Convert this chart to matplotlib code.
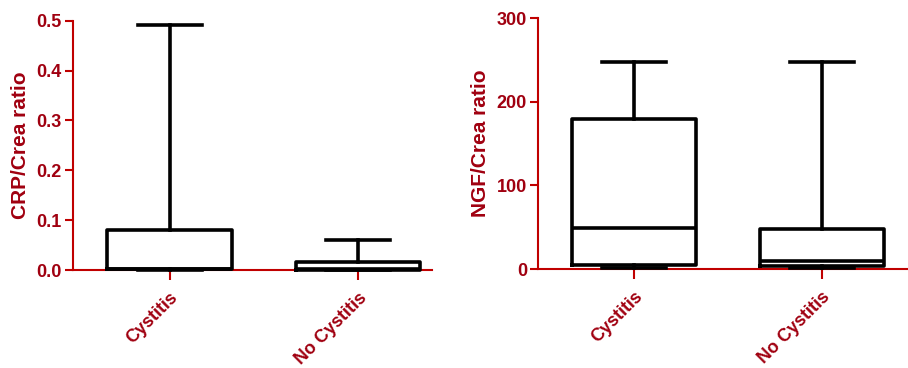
import matplotlib
matplotlib.use("Agg")
import matplotlib.pyplot as plt

plt.rcParams['font.family'] = ['Liberation Sans', 'DejaVu Sans']
plt.rcParams['font.weight'] = 'bold'

categories = ["Cystitis", "No Cystitis"]

# CRP/Crea ratio (left panel)
crp_whislo = [0.0, 0.0]
crp_q1 = [0.002, 0.001]
crp_med = [0.003, 0.002]
crp_q3 = [0.081, 0.016]
crp_whishi = [0.491, 0.060]

# NGF/Crea ratio (right panel)
ngf_whislo = [1, 1]
ngf_q1 = [5, 4]
ngf_med = [49, 10]
ngf_q3 = [179, 48]
ngf_whishi = [248, 248]

crp_yticks = [0.0, 0.1, 0.2, 0.3, 0.4, 0.5]
crp_yticklabels = ["0.0", "0.1", "0.2", "0.3", "0.4", "0.5"]
ngf_yticks = [0, 100, 200, 300]
ngf_yticklabels = ["0", "100", "200", "300"]

AXCOL = '#c00000'
TXTCOL = '#a00010'

def stats(lo, q1, med, q3, hi):
    return [dict(whislo=lo[i], q1=q1[i], med=med[i], q3=q3[i], whishi=hi[i],
                 label=categories[i]) for i in range(len(categories))]

fig = plt.figure(figsize=(9.08, 3.68), dpi=100)
ax1 = fig.add_axes([0.0804, 0.2663, 0.395, 0.6774])
ax2 = fig.add_axes([0.5925, 0.269, 0.4075, 0.682])

def style(ax, st, ylim, yt, ytl, ylabel, xlim):
    lw = 2.6
    ax.bxp(st, positions=[0, 1], widths=0.66, showfliers=False,
           boxprops=dict(color='black', linewidth=lw),
           medianprops=dict(color='black', linewidth=lw),
           whiskerprops=dict(color='black', linewidth=lw),
           capprops=dict(color='black', linewidth=lw),
           capwidths=0.34, patch_artist=False)
    ax.set_ylim(*ylim)
    ax.set_xlim(*xlim)
    ax.set_yticks(yt)
    ax.set_yticklabels(ytl)
    ax.set_xticks([0, 1])
    ax.set_xticklabels(categories, rotation=45, ha='right', va='top',
                       rotation_mode='anchor')
    for s in ['top', 'right']:
        ax.spines[s].set_visible(False)
    for s in ['left', 'bottom']:
        ax.spines[s].set_color(AXCOL)
        ax.spines[s].set_linewidth(1.5)
        ax.spines[s].set_zorder(0)
    ax.tick_params(axis='y', colors=AXCOL, labelcolor=TXTCOL, labelsize=13,
                   length=6, width=1.5, pad=2)
    ax.tick_params(axis='x', colors=AXCOL, labelcolor=TXTCOL, labelsize=13,
                   length=7, width=1.5, pad=7)
    for lab in ax.get_xticklabels() + ax.get_yticklabels():
        lab.set_fontweight('bold')
    ax.set_ylabel(ylabel, color=TXTCOL, fontsize=15, fontweight='bold', labelpad=5)
    for line in ax.lines:
        line.set_clip_on(False)

style(ax1, stats(crp_whislo, crp_q1, crp_med, crp_q3, crp_whishi),
      (0, 0.5), crp_yticks, crp_yticklabels, "CRP/Crea ratio", (-0.513, 1.39))
style(ax2, stats(ngf_whislo, ngf_q1, ngf_med, ngf_q3, ngf_whishi),
      (0, 300), ngf_yticks, ngf_yticklabels, "NGF/Crea ratio", (-0.51, 1.46))

fig.savefig("out.png", dpi=100)
